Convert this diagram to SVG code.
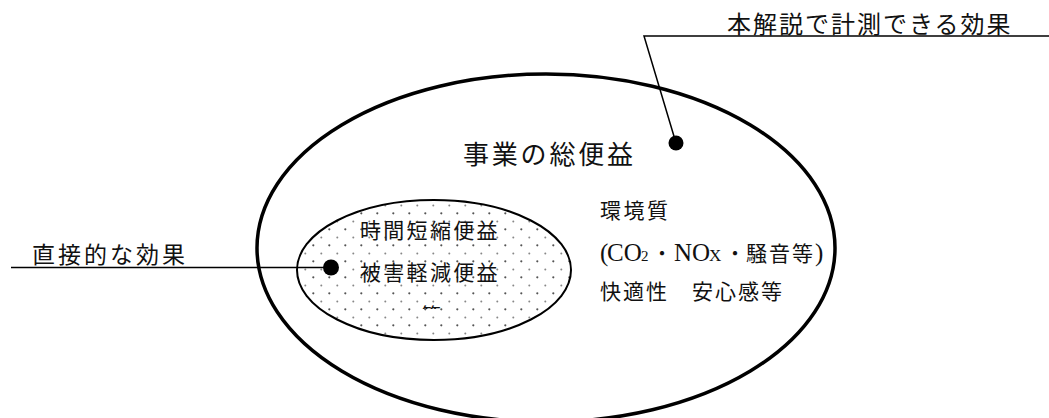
<svg xmlns="http://www.w3.org/2000/svg" width="1049" height="418" viewBox="0 0 1049 418">
<defs>
<style>
.jp{font-family:"Noto Sans CJK JP","Noto Sans",sans-serif;fill:#111;}
.lat{font-family:"Liberation Serif","Noto Sans CJK JP",serif;fill:#111;}
.ln{stroke:#000;stroke-width:1.5;fill:none;}
.dot{fill:#000;}
</style>
<pattern id="dots" patternUnits="userSpaceOnUse" width="16" height="16" x="0" y="0">
<circle cx="9.3" cy="5.3" r="1.1" fill="#555"/>
<circle cx="1.3" cy="13.5" r="1" fill="#888"/>
</pattern>
<clipPath id="clipEtc"><rect x="410" y="296" width="50" height="13"/></clipPath>
</defs>
<rect width="1049" height="418" fill="#fff"/>
<g id="outer">
<ellipse cx="546" cy="248" rx="289" ry="174" fill="none" stroke="#000" stroke-width="3.5"/>
<text class="jp" x="463" y="164" font-size="26" letter-spacing="2.8">事業の総便益</text>
<text class="jp" x="600" y="218" font-size="21" letter-spacing="2.5">環境質</text>
<text x="600" y="261" font-size="25"><tspan class="lat" x="600">(</tspan><tspan class="lat" x="607">CO</tspan><tspan class="lat" x="641" font-size="15">2</tspan><tspan class="jp" x="652" font-size="20">・</tspan><tspan class="lat" x="674">NO</tspan><tspan class="lat" x="709" font-size="17">X</tspan><tspan class="jp" x="725" font-size="20">・</tspan><tspan class="jp" x="746" font-size="21" letter-spacing="2">騒音等</tspan><tspan class="lat" x="815">)</tspan></text>
<text class="jp" x="600" y="299" font-size="21" letter-spacing="2">快適性　安心感等</text>
</g>
<g id="inner">
<ellipse cx="434" cy="270" rx="137" ry="70" fill="url(#dots)" stroke="#000" stroke-width="2"/>
<text class="jp" x="360" y="238" font-size="21" letter-spacing="2.3">時間短縮便益</text>
<text class="jp" x="360" y="280" font-size="21" letter-spacing="2.3">被害軽減便益</text>
<text class="jp" x="421" y="323" font-size="20" clip-path="url(#clipEtc)">等</text>
</g>
<g id="label-top">
<text class="jp" x="727" y="33" font-size="24" letter-spacing="2">本解説で計測できる効果</text>
</g>
<g id="label-left">
<text class="jp" x="32" y="263" font-size="23" letter-spacing="3">直接的な効果</text>
</g>
<g id="connectors">
<polyline class="ln" points="1049,36 644,36 676,143"/>
<circle class="dot" cx="676" cy="143" r="7.5"/>
<line class="ln" x1="11" y1="267.5" x2="331" y2="267.5"/>
<circle class="dot" cx="331" cy="267.5" r="8"/>
</g>
</svg>
